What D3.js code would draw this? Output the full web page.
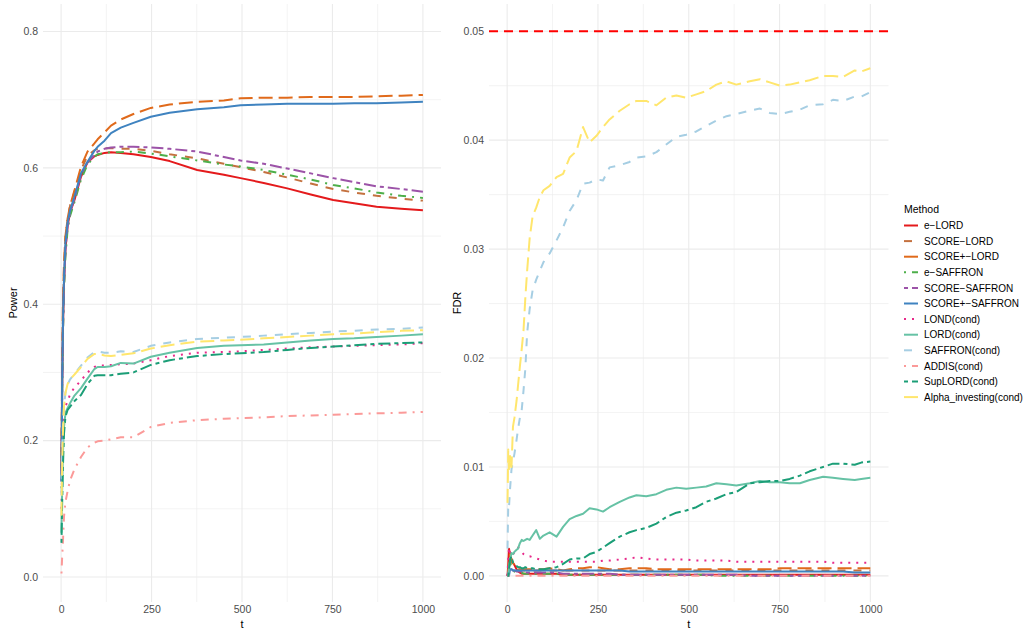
<!DOCTYPE html>
<html>
<head>
<meta charset="utf-8">
<script src="https://cdn.jsdelivr.net/npm/d3@7"></script>
<style>
  html, body { margin: 0; padding: 0; background: #fff; }
  svg { display: block; font-family: "Liberation Sans", Arial, sans-serif; }
</style>
</head>
<body>
<svg id="chart" width="1023" height="634"></svg>
<script>
// ---------------- DATA ----------------
const methods = ["e\u2212LORD", "SCORE\u2212LORD", "SCORE+\u2212LORD", "e\u2212SAFFRON", "SCORE\u2212SAFFRON",
  "SCORE+\u2212SAFFRON", "LOND(cond)", "LORD(cond)", "SAFFRON(cond)", "ADDIS(cond)", "SupLORD(cond)", "Alpha_investing(cond)"];
const methodColors = ["#E41A1C", "#C4713F", "#E06A1B", "#4DAF4A", "#9C53A8", "#3F83C0",
  "#E7298A", "#66C2A5", "#A6CEE3", "#FB9A99", "#1B9E77", "#FFE66D"];
const methodLinetypes = ["solid", "dashed", "longdash", "dotdash", "twodash", "solid",
  "dotted", "solid", "dashed", "dotdash", "twodash", "longdash"];

// Power panel
const powerT = [1,3,5,8,12,18,25,37,55,73,92,101,120,138,165,200,248,300,376,450,496,560,625,690,752,810,872,940,1000];
const powerELORD = [0.15,0.28,0.36,0.43,0.48,0.515,0.535,0.553,0.587,0.608,0.617,0.619,0.622,0.623,0.622,0.620,0.616,0.610,0.597,0.590,0.585,0.578,0.570,0.561,0.553,0.548,0.543,0.540,0.538];
const powerSCORELORD = [0.16,0.30,0.38,0.45,0.50,0.525,0.545,0.565,0.597,0.618,0.626,0.628,0.629,0.629,0.628,0.628,0.625,0.620,0.614,0.606,0.601,0.594,0.586,0.577,0.569,0.564,0.559,0.555,0.552];
const powerSCOREpLORD = [0.17,0.31,0.40,0.46,0.50,0.526,0.545,0.567,0.602,0.624,0.636,0.642,0.652,0.662,0.671,0.679,0.688,0.693,0.697,0.699,0.702,0.703,0.703,0.704,0.704,0.704,0.705,0.706,0.707];
const powerESAFFRON = [0.13,0.27,0.35,0.42,0.47,0.51,0.53,0.55,0.583,0.605,0.616,0.620,0.622,0.623,0.623,0.624,0.621,0.617,0.611,0.605,0.602,0.597,0.590,0.583,0.575,0.570,0.564,0.559,0.556];
const powerSCORESAFFRON = [0.14,0.28,0.36,0.43,0.48,0.515,0.535,0.555,0.590,0.608,0.619,0.624,0.628,0.630,0.631,0.631,0.630,0.628,0.624,0.616,0.611,0.606,0.599,0.592,0.585,0.579,0.573,0.569,0.565];
const powerSCOREpSAFFRON = [0.14,0.28,0.37,0.44,0.49,0.52,0.538,0.558,0.592,0.609,0.625,0.631,0.640,0.651,0.659,0.666,0.675,0.681,0.686,0.689,0.692,0.693,0.694,0.694,0.694,0.695,0.695,0.696,0.697];
const powerLOND = [0.10,0.16,0.20,0.23,0.25,0.258,0.268,0.278,0.288,0.300,0.308,0.310,0.310,0.311,0.312,0.313,0.318,0.324,0.329,0.330,0.331,0.333,0.335,0.337,0.338,0.339,0.340,0.341,0.343];
const powerLORD = [0.065,0.13,0.18,0.22,0.24,0.248,0.255,0.266,0.277,0.291,0.305,0.308,0.308,0.309,0.314,0.313,0.323,0.329,0.336,0.339,0.340,0.341,0.344,0.347,0.349,0.350,0.352,0.354,0.356];
const powerSAFFRON = [0.12,0.19,0.22,0.25,0.27,0.282,0.290,0.298,0.310,0.322,0.330,0.331,0.329,0.329,0.331,0.330,0.339,0.344,0.349,0.351,0.352,0.354,0.356,0.358,0.360,0.361,0.363,0.364,0.366];
const powerADDIS = [0.005,0.03,0.05,0.088,0.11,0.126,0.142,0.158,0.176,0.190,0.197,0.199,0.200,0.202,0.205,0.205,0.220,0.226,0.230,0.232,0.233,0.234,0.236,0.237,0.238,0.239,0.240,0.241,0.242];
const powerSupLORD = [0.05,0.11,0.16,0.21,0.235,0.245,0.25,0.258,0.267,0.283,0.295,0.296,0.296,0.296,0.298,0.300,0.311,0.318,0.324,0.327,0.328,0.330,0.333,0.336,0.338,0.340,0.342,0.343,0.344];
const powerAlpha = [0.09,0.17,0.21,0.25,0.27,0.283,0.290,0.297,0.308,0.320,0.327,0.327,0.325,0.324,0.326,0.328,0.335,0.340,0.345,0.347,0.348,0.350,0.352,0.354,0.356,0.357,0.359,0.361,0.362];

// FDR panel
const fdrT = [1,3,5,8,12,16,20,26,30,35,40,45,50,55,62,70,80,90,100,117,136,154,172,191,209,227,246,264,282,310,337,356,383,411,438,466,493,521,548,576,604,631,668,696,723,751,778,806,833,870,897,925,957,975,1000];
const fdrELORD = [0,0.0010,0.0025,0.0020,0.0015,0.0012,0.0010,0.0006,0.0004,0.0003,0.0002,0.0002,0.0002,0.0002,0.0002,0.0002,0.0002,0.0002,0.0002,0.0002,0.0002,0.0001,0.0001,0.0001,0.0001,0.0001,0.0001,0.0001,0.0001,0.0001,0.0001,0.0001,0.0001,0.0001,0.0001,0.0001,0.0001,0.0001,0.0001,0.0001,0.0001,0.0001,0.0001,0.0001,0.0001,0.0001,0.0001,0.0001,0.0001,0.0001,0.0001,0.0001,0.0001,0.0001,0.0001];
const fdrSCORELORD = [0,0,0.0010,0.0016,0.0013,0.0010,0.0008,0.0007,0.0006,0.0005,0.0005,0.0005,0.0005,0.0005,0.0005,0.0005,0.0005,0.0005,0.0005,0.0005,0.0005,0.0005,0.0005,0.0005,0.0005,0.0005,0.0005,0.0005,0.0005,0.0005,0.0005,0.0005,0.0005,0.0005,0.0005,0.0005,0.0005,0.0005,0.0005,0.0005,0.0005,0.0005,0.0005,0.0005,0.0005,0.0005,0.0005,0.0005,0.0005,0.0005,0.0005,0.0005,0.0005,0.0005,0.0005];
const fdrSCOREpLORD = [0,0,0.0012,0.0020,0.0015,0.0012,0.0010,0.0008,0.0007,0.0006,0.0006,0.0006,0.0006,0.0006,0.0006,0.0006,0.0006,0.0006,0.0006,0.0007,0.0006,0.0005,0.0006,0.0007,0.0007,0.0008,0.0008,0.0007,0.0006,0.0006,0.0007,0.0007,0.0007,0.0006,0.0006,0.0006,0.0006,0.0006,0.0006,0.0006,0.0006,0.0006,0.0006,0.0006,0.0006,0.0007,0.0007,0.0007,0.0007,0.0007,0.0007,0.0007,0.0007,0.0007,0.0007];
const fdrESAFFRON = [0,0.0004,0.0008,0.0012,0.0008,0.0006,0.0004,0.0003,0.0003,0.0003,0.0003,0.0002,0.0002,0.0002,0.0002,0.0002,0.0002,0.0002,0.0002,0.0002,0.0002,0.0002,0.0001,0.0001,0.0001,0.0001,0.0001,0.0001,0.0001,0.0001,0.0001,0.0001,0.0001,0.0001,0.0001,0.0001,0.0001,0.0001,0.0001,0,0,0,0,0,0,0,0,0,0,0,0,0,0,0,0];
const fdrSCORESAFFRON = [0,0.0003,0.0005,0.0006,0.0006,0.0005,0.0005,0.0004,0.0004,0.0004,0.0004,0.0004,0.0003,0.0003,0.0003,0.0003,0.0003,0.0003,0.0003,0.0003,0.0003,0.0002,0.0002,0.0002,0.0002,0.0002,0.0002,0.0002,0.0002,0.0001,0.0001,0.0001,0.0001,0.0001,0.0001,0.0001,0.0001,0.0001,0.0001,0.0001,0.0001,0.0001,0,0,0,0,0,0,0,0,0,0,0,0,0];
const fdrSCOREpSAFFRON = [0,0,0,0.0006,0.0006,0.0005,0.0005,0.0005,0.0005,0.0005,0.0005,0.0005,0.0005,0.0005,0.0005,0.0005,0.0005,0.0005,0.0005,0.0005,0.0005,0.0005,0.0005,0.0005,0.0005,0.0005,0.0005,0.0005,0.0005,0.0005,0.0004,0.0004,0.0004,0.0004,0.0004,0.0004,0.0004,0.0004,0.0004,0.0004,0.0004,0.0004,0.0004,0.0004,0.0004,0.0004,0.0004,0.0004,0.0004,0.0004,0.0004,0.0004,0.0003,0.0003,0.0003];
const fdrLOND = [0,0.0015,0.0026,0.0020,0.0018,0.0020,0.0021,0.0024,0.0026,0.0025,0.0022,0.0020,0.0019,0.0018,0.0018,0.0017,0.0016,0.0015,0.0014,0.0013,0.0013,0.0013,0.0013,0.0013,0.0013,0.0013,0.0013,0.0014,0.0014,0.0015,0.0016,0.0017,0.0016,0.0015,0.0015,0.0015,0.0015,0.0014,0.0014,0.0014,0.0014,0.0013,0.0013,0.0013,0.0013,0.0013,0.0013,0.0013,0.0013,0.0013,0.0012,0.0012,0.0012,0.0012,0.0012];
const fdrLORD = [0,0,0.0008,0.0015,0.0021,0.0020,0.0022,0.0024,0.0025,0.0030,0.0033,0.0032,0.0033,0.0034,0.0033,0.0037,0.0042,0.0034,0.0037,0.0040,0.0036,0.0045,0.0052,0.0055,0.0057,0.0062,0.0061,0.0059,0.0063,0.0068,0.0072,0.0074,0.0073,0.0075,0.0079,0.0081,0.0080,0.0081,0.0082,0.0085,0.0084,0.0083,0.0085,0.0087,0.0086,0.0086,0.0085,0.0085,0.0088,0.0091,0.0090,0.0089,0.0088,0.0089,0.0090];
const fdrSAFFRON = [0.0025,0.0065,0.0063,0.0080,0.0098,0.0105,0.0112,0.0125,0.0135,0.0145,0.0152,0.0170,0.0190,0.0223,0.0245,0.0262,0.0272,0.0280,0.0288,0.0296,0.0308,0.0320,0.0335,0.0345,0.0360,0.0361,0.0364,0.0363,0.0375,0.0377,0.0380,0.0384,0.0385,0.0389,0.0396,0.0403,0.0405,0.0408,0.0413,0.0418,0.0422,0.0424,0.0427,0.0429,0.0425,0.0424,0.0426,0.0428,0.0432,0.0433,0.0437,0.0436,0.0440,0.0440,0.0444];
const fdrADDIS = [0,0,0,0,0,0,0,0,0,0,0,0,0,0,0,0,0,0,0,0,0,0,0,0,0,0,0,0,0,0,0,0,0,0,0,0,0,0,0,0,0,0,0,0,0,0,0,0,0,0,0,0,0,0,0];
const fdrSupLORD = [0,0,0.0005,0.0015,0.0018,0.0012,0.0010,0.0009,0.0008,0.0008,0.0007,0.0007,0.0008,0.0007,0.0007,0.0007,0.0006,0.0006,0.0006,0.0007,0.0008,0.0011,0.0015,0.0016,0.0016,0.0020,0.0022,0.0026,0.0030,0.0036,0.0040,0.0042,0.0044,0.0048,0.0054,0.0058,0.0060,0.0063,0.0068,0.0071,0.0075,0.0077,0.0085,0.0086,0.0087,0.0087,0.0089,0.0092,0.0096,0.0100,0.0103,0.0103,0.0102,0.0104,0.0105];
const fdrAlpha = [0.0067,0.0116,0.0095,0.0110,0.0100,0.0137,0.0145,0.0161,0.0175,0.0192,0.0208,0.0225,0.0255,0.0280,0.0310,0.0330,0.0338,0.0348,0.0354,0.0358,0.0366,0.0369,0.0384,0.0390,0.0412,0.0398,0.0404,0.0412,0.0419,0.0427,0.0433,0.0436,0.0436,0.0432,0.0439,0.0441,0.0439,0.0442,0.0445,0.0451,0.0454,0.0451,0.0454,0.0456,0.0453,0.0450,0.0451,0.0453,0.0455,0.0459,0.0459,0.0458,0.0464,0.0463,0.0466];
const fdrTarget = 0.05;

const powerSeries = [powerELORD, powerSCORELORD, powerSCOREpLORD, powerESAFFRON, powerSCORESAFFRON, powerSCOREpSAFFRON,
  powerLOND, powerLORD, powerSAFFRON, powerADDIS, powerSupLORD, powerAlpha];
const fdrSeries = [fdrELORD, fdrSCORELORD, fdrSCOREpLORD, fdrESAFFRON, fdrSCORESAFFRON, fdrSCOREpSAFFRON,
  fdrLOND, fdrLORD, fdrSAFFRON, fdrADDIS, fdrSupLORD, fdrAlpha];

const xTicks = [0, 250, 500, 750, 1000];
const xMinor = [125, 375, 625, 875];
const powerTicks = [0, 0.2, 0.4, 0.6, 0.8];
const powerMinor = [0.1, 0.3, 0.5, 0.7];
const fdrTicks = [0, 0.01, 0.02, 0.03, 0.04, 0.05];
const fdrMinor = [0.005, 0.015, 0.025, 0.035, 0.045];

// ---------------- DRAW ----------------
const svg = d3.select("#chart");
const LW = 2;
const dashFor = {
  solid: null,
  dashed: [4, 4],
  dotted: [1, 3],
  dotdash: [1, 3, 4, 3],
  longdash: [7, 3],
  twodash: [2, 2, 6, 2]
};
function dash(lt) {
  const d = dashFor[lt];
  return d ? d.map(v => v * LW).join(",") : null;
}

function panel(opts) {
  const g = svg.append("g");
  const x = d3.scaleLinear().domain([-50, 1050]).range([opts.left, opts.right]);
  const y = d3.scaleLinear().domain(opts.yDomain).range([opts.bottom, opts.top]);

  // minor grid
  g.selectAll(".vminor").data(xMinor).join("line")
    .attr("x1", d => x(d)).attr("x2", d => x(d)).attr("y1", opts.top).attr("y2", opts.bottom)
    .attr("stroke", "#EBEBEB").attr("stroke-width", 0.6);
  g.selectAll(".hminor").data(opts.yMinor).join("line")
    .attr("y1", d => y(d)).attr("y2", d => y(d)).attr("x1", opts.left).attr("x2", opts.right)
    .attr("stroke", "#EBEBEB").attr("stroke-width", 0.6);
  // major grid
  g.selectAll(".vmajor").data(xTicks).join("line")
    .attr("x1", d => x(d)).attr("x2", d => x(d)).attr("y1", opts.top).attr("y2", opts.bottom)
    .attr("stroke", "#EBEBEB").attr("stroke-width", 1.1);
  g.selectAll(".hmajor").data(opts.yTicks).join("line")
    .attr("y1", d => y(d)).attr("y2", d => y(d)).attr("x1", opts.left).attr("x2", opts.right)
    .attr("stroke", "#EBEBEB").attr("stroke-width", 1.1);

  // axes (text only, via d3 axes)
  const ax = g.append("g").attr("transform", `translate(0,${opts.bottom})`)
    .call(d3.axisBottom(x).tickValues(xTicks).tickSize(0).tickPadding(4).tickFormat(d3.format("d")));
  ax.select(".domain").remove();
  ax.selectAll("text").attr("fill", "#4D4D4D").style("font-size", "10.5px").attr("dy", "0.71em");
  const ay = g.append("g").attr("transform", `translate(${opts.left},0)`)
    .call(d3.axisLeft(y).tickValues(opts.yTicks).tickSize(0).tickPadding(5).tickFormat(opts.yFormat));
  ay.select(".domain").remove();
  ay.selectAll("text").attr("fill", "#4D4D4D").style("font-size", "10.5px");

  // titles
  g.append("text").attr("x", (opts.left + opts.right) / 2).attr("y", 628)
    .attr("text-anchor", "middle").style("font-size", "11px").attr("fill", "#000").text("t");
  g.append("text").attr("transform", `translate(${opts.yTitleX},${(opts.top + opts.bottom) / 2}) rotate(-90)`)
    .attr("text-anchor", "middle").style("font-size", "11px").attr("fill", "#000").text(opts.yTitle);

  const clipId = "clip" + opts.key;
  svg.append("clipPath").attr("id", clipId).append("rect")
    .attr("x", opts.left).attr("y", opts.top).attr("width", opts.right - opts.left).attr("height", opts.bottom - opts.top);
  const lg = g.append("g").attr("clip-path", `url(#${clipId})`);
  if (opts.hline !== undefined) {
    lg.append("line").attr("x1", opts.left).attr("x2", opts.right)
      .attr("y1", y(opts.hline)).attr("y2", y(opts.hline))
      .attr("stroke", "#FF0000").attr("stroke-width", 2.2).attr("stroke-dasharray", "9,6");
  }
  const line = d3.line().x(d => x(d[0])).y(d => y(d[1]));
  opts.series.forEach((vals, i) => {
    const pts = opts.t.map((t, k) => [t, vals[k]]);
    lg.append("path").datum(pts).attr("d", line)
      .attr("fill", "none").attr("stroke", methodColors[i]).attr("stroke-width", LW)
      .attr("stroke-linejoin", "round").attr("stroke-linecap", "butt")
      .attr("stroke-dasharray", dash(methodLinetypes[i]));
  });
}

panel({ key: "p", left: 43, right: 441, top: 4, bottom: 602,
  yDomain: [-0.0367, 0.8404], yTicks: powerTicks, yMinor: powerMinor, yFormat: d3.format(".1f"),
  yTitle: "Power", yTitleX: 17, t: powerT, series: powerSeries });

panel({ key: "f", left: 489, right: 888.5, top: 4, bottom: 602,
  yDomain: [-0.0024, 0.0525], yTicks: fdrTicks, yMinor: fdrMinor, yFormat: d3.format(".2f"),
  yTitle: "FDR", yTitleX: 461, t: fdrT, series: fdrSeries, hline: fdrTarget });

// legend
const leg = svg.append("g");
leg.append("text").attr("x", 904).attr("y", 212.5).style("font-size", "10.5px").attr("fill", "#000").text("Method");
methods.forEach((m, i) => {
  const cy = 225.5 + i * 15.6;
  leg.append("line").attr("x1", 904).attr("x2", 918).attr("y1", cy).attr("y2", cy)
    .attr("stroke", methodColors[i]).attr("stroke-width", LW).attr("stroke-linecap", "butt")
    .attr("stroke-dasharray", dash(methodLinetypes[i]));
  leg.append("text").attr("x", 924).attr("y", cy + 3.6).style("font-size", "10px").attr("fill", "#000").text(m);
});
</script>
</body>
</html>
